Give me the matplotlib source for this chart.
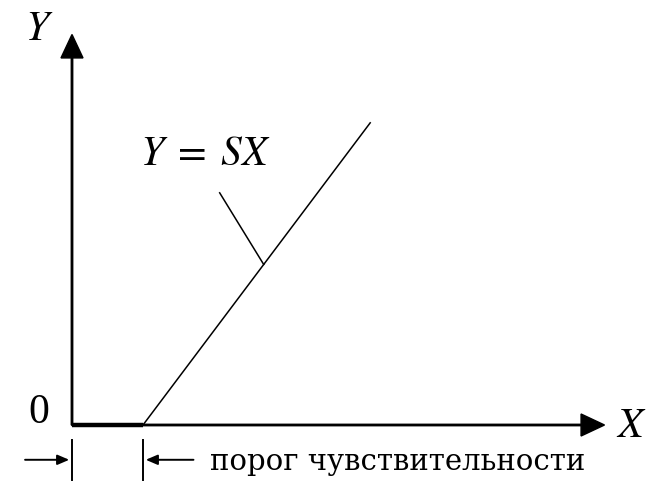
import numpy as np
import matplotlib.pyplot as plt

plt.rcParams['mathtext.fontset'] = 'stix'

# diagram data (units: threshold = 1)
threshold = 1.0
S = 1.33
x_end = 4.2
x_axis_len = 7.5
y_axis_len = 5.5
leader_start = (2.08, 3.27)
leader_x = 2.7
label_eq = "$Y\\;=\\;SX$"
label_thr = "порог чувствительности"

fig = plt.figure(figsize=(6.59, 4.87), dpi=100)
ax = fig.add_axes([0, 0, 1, 1])
ax.set_xlim(-72/71, 587/71)
ax.set_ylim(-62/71, 425/71)
ax.axis('off')

# axes with arrowheads
ax.arrow(0, 0, 0, y_axis_len, width=0.02, head_width=0.31, head_length=0.33,
         length_includes_head=True, color='black')
ax.arrow(0, 0, x_axis_len, 0, width=0.02, head_width=0.31, head_length=0.33,
         length_includes_head=True, color='black')

# dead zone and sensitivity line
ax.plot([0, threshold], [0, 0], color='black', lw=3.2, solid_capstyle='butt')
xs = np.array([threshold, x_end])
ax.plot(xs, S * (xs - threshold), color='black', lw=1.1)

# leader line to the formula
ax.plot([leader_start[0], leader_x], [leader_start[1], S * (leader_x - threshold)],
        color='black', lw=1.1)

ax.text(-0.46, 5.59, "$Y$", fontsize=30, ha='center', va='center')
ax.text(7.87, 0.0, "$X$", fontsize=30, ha='center', va='center')
ax.text(-0.47, 0.17, "0", fontsize=30, ha='center', va='center', family='Liberation Serif')
ax.text(0.96, 3.83, label_eq, fontsize=30, ha='left', va='center')

# threshold dimension marks
yb = -0.49
for xv in [0, threshold]:
    ax.plot([xv, xv], [-0.21, -0.77], color='black', lw=1.4)
ax.annotate('', xy=(0, yb), xytext=(-0.7, yb),
            arrowprops=dict(arrowstyle='-|>,head_length=0.7,head_width=0.3', color='black', lw=1.4))
ax.annotate('', xy=(threshold, yb), xytext=(threshold + 0.75, yb),
            arrowprops=dict(arrowstyle='-|>,head_length=0.7,head_width=0.3', color='black', lw=1.4))
ax.text(1.94, yb - 0.03, label_thr, fontsize=21, ha='left', va='center', family='DejaVu Serif')

fig.savefig('out.png', dpi=100)
